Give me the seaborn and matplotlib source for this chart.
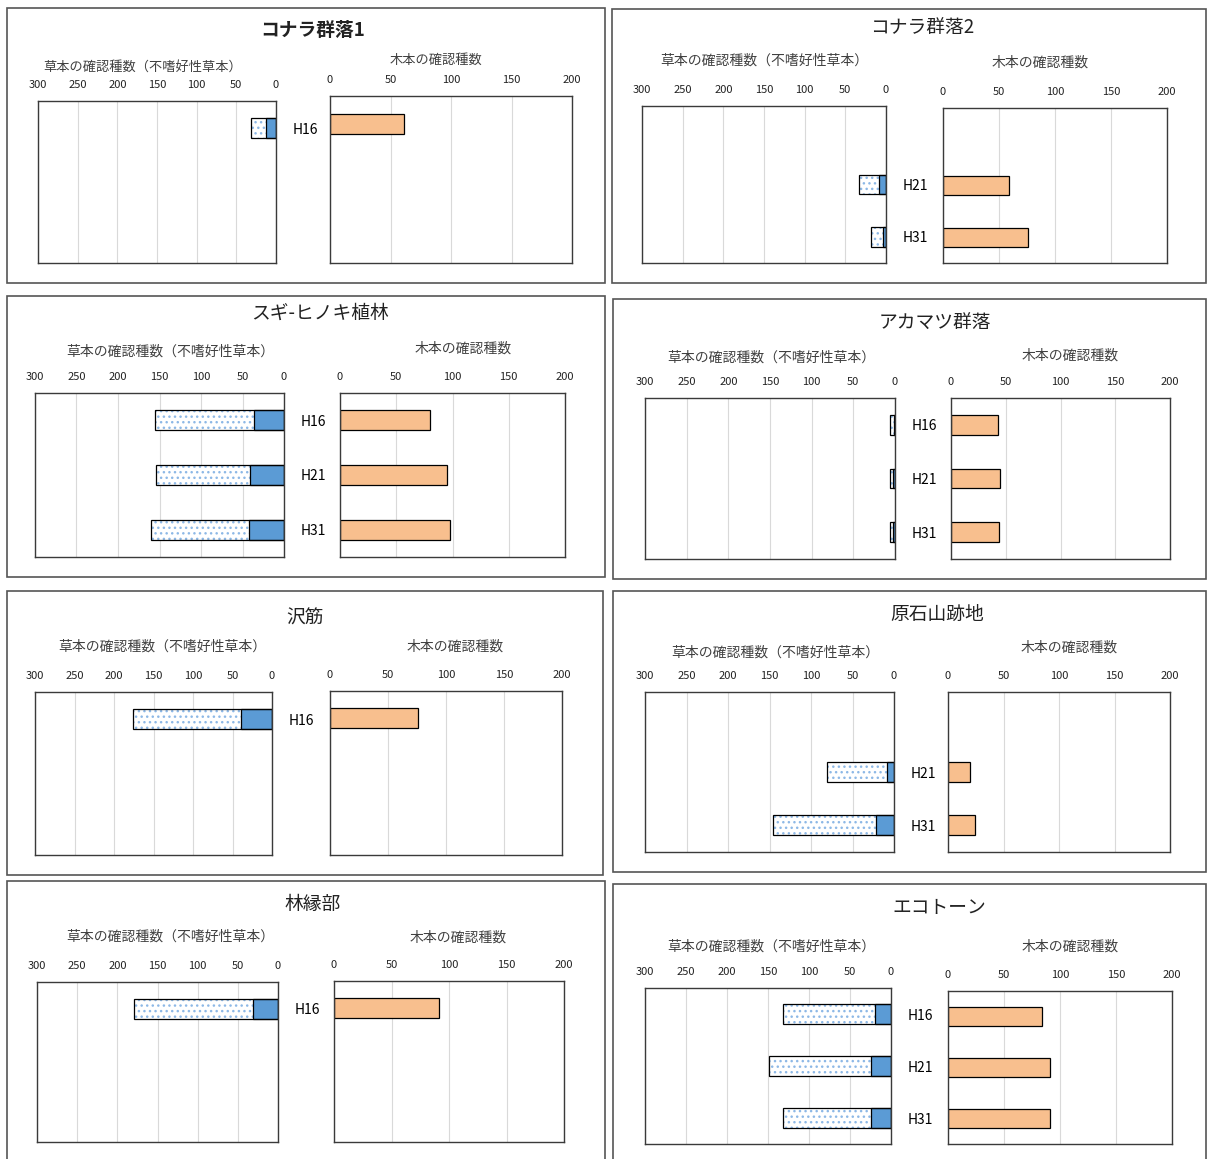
import numpy as np
import pandas as pd
import matplotlib
matplotlib.use("Agg")
import matplotlib.pyplot as plt
from matplotlib.patches import Rectangle
import seaborn as sns

sns.set_style("white")
plt.rcParams['font.family'] = ['Noto Sans CJK JP', 'DejaVu Sans']

# Data
periods = ['H16', 'H21', 'H31']
sites = ['コナラ群落1', 'コナラ群落2', 'スギ-ヒノキ植林', 'アカマツ群落',
         '沢筋', '原石山跡地', '林縁部', 'エコトーン']
nan = np.nan
herb_total = [[31, nan, nan], [nan, 33, 19], [155, 154, 160], [6, 6, 6],
              [176, nan, nan], [nan, 81, 146], [179, nan, nan], [132, 149, 132]]
herb_unpal = [[12, nan, nan], [nan, 9, 4], [36, 41, 42], [1, 3, 3],
              [39, nan, nan], [nan, 8, 22], [31, nan, nan], [19, 24, 24]]
tree_count = [[61, nan, nan], [nan, 59, 76], [80, 95, 98], [43, 45, 44],
              [76, nan, nan], [nan, 20, 24], [91, nan, nan], [84, 91, 91]]

herb_ticks = [300, 250, 200, 150, 100, 50, 0]
tree_ticks = [0, 50, 100, 150, 200]
herb_label = '草本の確認種数（不嗜好性草本）'
tree_label = '木本の確認種数'

# Layout in pixels
W, H = 1208, 1159
boxes = [(7, 8, 605, 283), (612, 9, 1206, 283), (7, 296, 605, 577), (613, 299, 1206, 579),
         (7, 591, 603, 875), (613, 591, 1206, 872), (7, 881, 605, 1175), (613, 884, 1206, 1175)]
title_pos = [(313, 30), (922, 27), (320, 313), (935, 323), (305, 618), (937, 614), (313, 904), (939, 908)]
left_ax = [(38, 101, 276, 263), (642, 106, 886, 263), (35, 393, 284, 557), (645, 398, 895, 559),
           (35, 692, 272, 855), (645, 692, 894, 852), (37, 982, 278, 1142), (645, 988, 891, 1144)]
right_ax = [(330, 96, 572, 263), (943, 108, 1167, 263), (340, 393, 565, 557), (951, 398, 1170, 559),
            (330, 691, 562, 855), (948, 692, 1170, 852), (334, 981, 564, 1142), (948, 991, 1172, 1144)]
left_lab = [(143, 67), (764, 61), (170, 352), (771, 358), (162, 647), (775, 653), (170, 937), (771, 947)]
right_lab = [(436, 60), (1040, 63), (463, 349), (1070, 356), (455, 647), (1069, 648), (458, 938), (1070, 947)]

BLUE = '#5B9BD5'
DOT = '#8DB8E6'
ORANGE = '#F8BF8E'
GRID = '#D9D9D9'


def rect(r):
    x0, y0, x1, y1 = r
    return [x0 / W, 1 - y1 / H, (x1 - x0) / W, (y1 - y0) / H]


def style_axes(ax, xlim, ticks):
    ax.set_xlim(*xlim)
    ax.set_xticks(ticks)
    ax.xaxis.tick_top()
    ax.tick_params(axis='x', length=0, pad=8, labelsize=8, colors='#222222')
    ax.grid(axis='x', color=GRID, lw=0.8)
    ax.set_axisbelow(True)
    ax.set_xlabel('')
    ax.set_ylabel('')
    for s in ax.spines.values():
        s.set_visible(True)
        s.set_color('#3a3a3a')
        s.set_linewidth(1.0)


fig = plt.figure(figsize=(W / 100, H / 100), dpi=100)

for i, site in enumerate(sites):
    df = pd.DataFrame({'period': periods, 'total': herb_total[i],
                       'unpal': herb_unpal[i], 'tree': tree_count[i]})
    df_h = df.dropna(subset=['total'])
    df_t = df.dropna(subset=['tree'])

    # panel frame
    x0, y0, x1, y1 = boxes[i]
    fig.patches.append(Rectangle((x0 / W, 1 - y1 / H), (x1 - x0) / W, (y1 - y0) / H,
                                 transform=fig.transFigure, fill=False,
                                 ec='#555555', lw=1.2, zorder=0))
    tx, ty = title_pos[i]
    fig.text(tx / W, 1 - ty / H, site, ha='center', va='center', fontsize=13.5,
             fontweight='bold' if i == 0 else 'normal', color='#222222')
    fs = 9.5 if i == 0 else 10
    lx, ly = left_lab[i]
    fig.text(lx / W, 1 - ly / H, herb_label, ha='center', va='center', fontsize=fs, color='#404040')
    rx, ry = right_lab[i]
    fig.text(rx / W, 1 - ry / H, tree_label, ha='center', va='center', fontsize=fs, color='#404040')

    # herb (left, reversed)
    axl = fig.add_axes(rect(left_ax[i]))
    sns.barplot(data=df_h, x='total', y='period', order=periods, orient='h', ax=axl,
                color='white', saturation=1, width=0.37, edgecolor=DOT, linewidth=0,
                hatch='...', errorbar=None)
    for p in list(axl.patches):
        axl.add_patch(Rectangle(p.get_xy(), p.get_width(), p.get_height(),
                                fill=False, ec='black', lw=0.9, zorder=p.get_zorder() + 0.1))
    sns.barplot(data=df_h, x='unpal', y='period', order=periods, orient='h', ax=axl,
                color=BLUE, saturation=1, width=0.37, edgecolor='black', linewidth=0.9,
                errorbar=None)
    style_axes(axl, (300, 0), herb_ticks)
    axl.yaxis.tick_right()
    present = set(df_h['period'])
    axl.set_yticks(range(len(periods)))
    axl.set_yticklabels([p if p in present else '' for p in periods])
    axl.tick_params(axis='y', length=0, pad=12, labelsize=10, colors='black')

    # trees (right)
    axr = fig.add_axes(rect(right_ax[i]))
    sns.barplot(data=df_t, x='tree', y='period', order=periods, orient='h', ax=axr,
                color=ORANGE, saturation=1, width=0.37, edgecolor='black', linewidth=0.9,
                errorbar=None)
    style_axes(axr, (0, 200), tree_ticks)
    axr.set_yticks([])

fig.savefig('out.png', dpi=100)
